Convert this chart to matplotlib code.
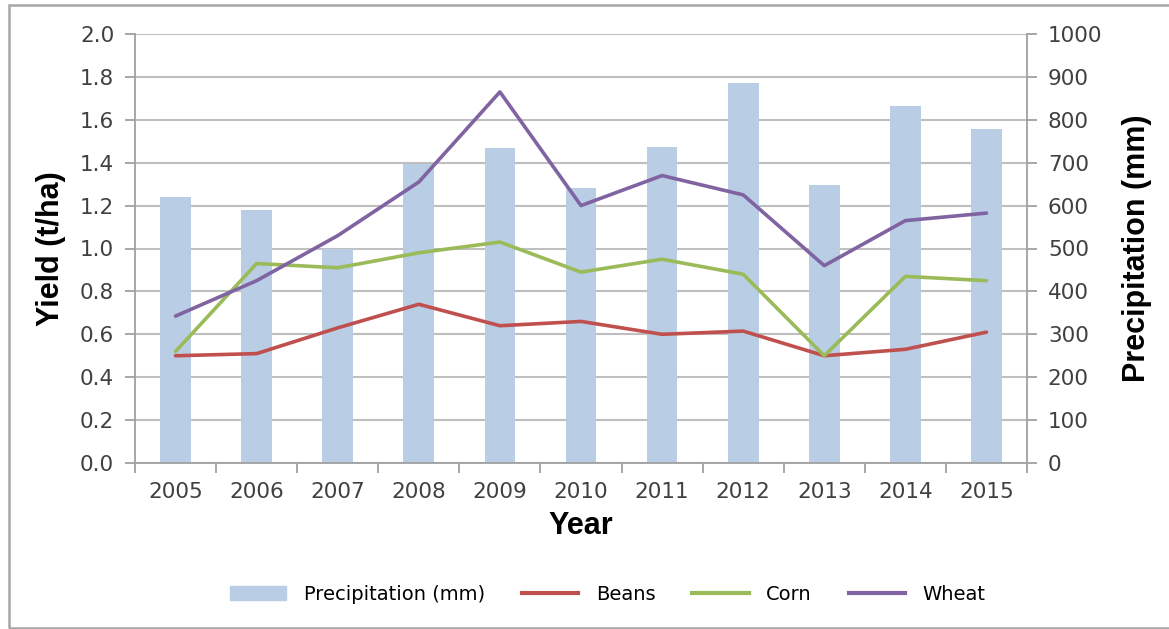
import matplotlib.pyplot as plt
import matplotlib.patches as mpatches
from matplotlib.lines import Line2D
import numpy as np

# data
years = ['2005', '2006', '2007', '2008', '2009', '2010', '2011', '2012', '2013', '2014', '2015']
precip = [620, 590, 500, 697, 735, 640, 737, 885, 648, 832, 778]
beans = [0.50, 0.51, 0.63, 0.74, 0.64, 0.66, 0.60, 0.615, 0.50, 0.53, 0.61]
corn = [0.52, 0.93, 0.91, 0.98, 1.03, 0.89, 0.95, 0.88, 0.50, 0.87, 0.85]
wheat = [0.685, 0.85, 1.06, 1.31, 1.73, 1.20, 1.34, 1.25, 0.92, 1.13, 1.165]

bar_col = '#b9cde5'
beans_col = '#c0504d'
corn_col = '#9bbb59'
wheat_col = '#8064a2'
grid_col = '#bfbfbf'
tick_col = '#404040'

fig = plt.figure(figsize=(11.69, 6.29), dpi=100)
ax = fig.add_axes([135/1169, 1 - 463/629, (1027 - 135)/1169, (463 - 34)/629])
ax2 = ax.twinx()

x = np.arange(len(years))

# precipitation bars on the right axis, kept behind the yield lines
ax2.bar(x, precip, width=0.38, color=bar_col, zorder=2)
ax2.set_ylim(0, 1000)
ax2.set_yticks(np.arange(0, 1001, 100))
ax2.grid(axis='y', color=grid_col, linewidth=1.5, zorder=0)
ax2.set_axisbelow(True)

ax.set_zorder(ax2.get_zorder() + 1)
ax.patch.set_visible(False)

lw = 2.6
ax.plot(x, beans, color=beans_col, lw=lw, solid_capstyle='round')
ax.plot(x, corn, color=corn_col, lw=lw, solid_capstyle='round')
ax.plot(x, wheat, color=wheat_col, lw=lw, solid_capstyle='round')

ax.set_xlim(-0.5, len(years) - 0.5)
ax.set_ylim(0, 2.0)
ax.set_yticks(np.arange(0, 2.01, 0.2))
ax.set_yticklabels([f'{v:.1f}' for v in np.arange(0, 2.01, 0.2)])
ax.set_xticks(x)
ax.set_xticklabels(years)
ax.set_xticks(np.arange(-0.5, len(years), 1), minor=True)
ax.tick_params(axis='x', which='major', length=0, pad=14)
ax.tick_params(axis='x', which='minor', length=7, color='#a0a0a0', width=1.3)
ax.tick_params(axis='y', length=7, color='#a0a0a0', width=1.3, pad=8)
ax2.tick_params(axis='y', length=7, color='#a0a0a0', width=1.3, pad=8)

for a in (ax, ax2):
    for s in a.spines.values():
        s.set_visible(False)
    a.tick_params(labelsize=15.5, labelcolor=tick_col)
ax.spines['left'].set_visible(True)
ax.spines['left'].set_color('#a0a0a0')
ax.spines['left'].set_linewidth(1.3)
ax.spines['bottom'].set_visible(True)
ax.spines['bottom'].set_color('#a0a0a0')
ax.spines['bottom'].set_linewidth(1.3)
ax2.spines['right'].set_visible(True)
ax2.spines['right'].set_color('#a0a0a0')
ax2.spines['right'].set_linewidth(1.3)

lab_font = dict(family='Liberation Sans', fontsize=22, fontweight='bold', color='black')
ax.set_ylabel('Yield (t/ha)', labelpad=10, **lab_font)
ax.set_xlabel('Year', labelpad=6, **lab_font)
ax2.set_ylabel('Precipitation (mm)', labelpad=14, **lab_font)

handles = [mpatches.Patch(color=bar_col),
           Line2D([], [], color=beans_col, lw=3),
           Line2D([], [], color=corn_col, lw=3),
           Line2D([], [], color=wheat_col, lw=3)]
labels = ['Precipitation (mm)', 'Beans', 'Corn', 'Wheat']
fig.legend(handles, labels, loc='center', bbox_to_anchor=(0.52, 1 - 594/629), ncol=4,
           frameon=False, fontsize=14, handlelength=2.9, handleheight=0.7,
           columnspacing=1.9, handletextpad=0.9)

# outer chart frame
fig.add_artist(mpatches.Rectangle((9/1169, 1/629), 1.0, 1 - 6/629, transform=fig.transFigure,
                                  fill=False, edgecolor='#a6a6a6', linewidth=1.8))

fig.savefig('out.png', dpi=100)
